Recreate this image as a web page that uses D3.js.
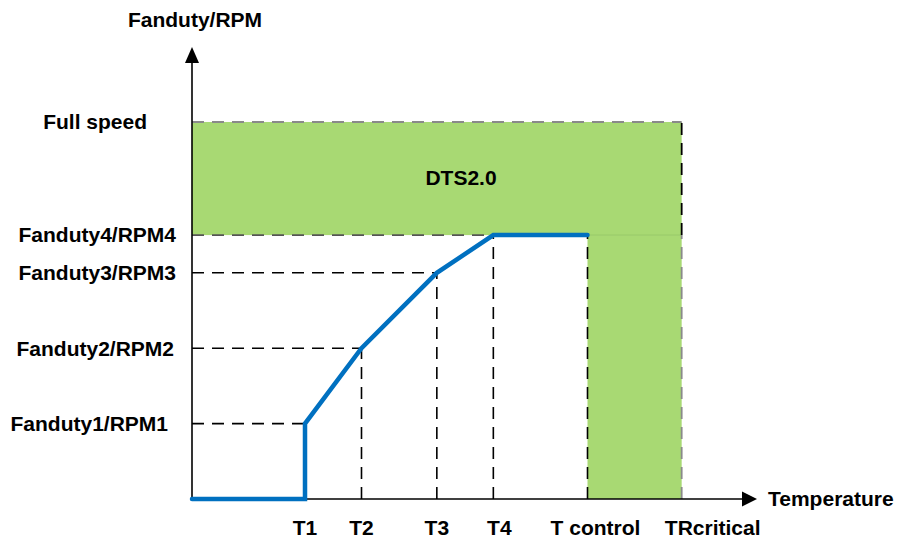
<!DOCTYPE html>
<html>
<head>
<meta charset="utf-8">
<script src="https://cdn.jsdelivr.net/npm/d3@7/dist/d3.min.js"></script>
<style>
  html, body { margin: 0; padding: 0; background: #ffffff; }
  svg { display: block; }
  text { font-family: "Liberation Sans", Arial, sans-serif; font-weight: bold; font-size: 21px; fill: #000; }
</style>
</head>
<body>
<svg id="chart" width="899" height="540"></svg>
<script>
// ---- data ----
const xTickLabels = ["T1", "T2", "T3", "T4", "T control", "TRcritical"];
const xTickValues = [6, 9, 13, 16, 21, 26];
const yTickLabels = ["Fanduty1/RPM1", "Fanduty2/RPM2", "Fanduty3/RPM3", "Fanduty4/RPM4", "Full speed"];
const yTickValues = [20, 40, 60, 70, 100];
const curveX = [0, 6, 6, 9, 13, 16, 21];
const curveY = [0, 0, 20, 40, 60, 70, 70];
const zoneLabel = "DTS2.0";
const xAxisTitle = "Temperature";
const yAxisTitle = "Fanduty/RPM";

// ---- layout ----
const svg = d3.select("#chart");
const x = d3.scaleLinear().domain([0, 30]).range([192, 757]);
const y = d3.scaleLinear().domain([0, 100]).range([499, 122]);
const xLabelDx = [0, 0, 0, 6, 8, 31];
const yLabelEnd = [168, 174, 176, 176, 147];

const green = "#a8d973";
const dash = "12,8";

// green zones
const tCtrl = xTickValues[4], tCrit = xTickValues[5];
const lvl4 = yTickValues[3], full = yTickValues[4];
svg.append("rect")
  .attr("x", x(0)).attr("y", y(full))
  .attr("width", x(tCrit) - x(0)).attr("height", y(lvl4) - y(full))
  .attr("fill", green);
svg.append("rect")
  .attr("x", x(tCtrl)).attr("y", y(lvl4))
  .attr("width", x(tCrit) - x(tCtrl)).attr("height", y(0) - y(lvl4))
  .attr("fill", green);

const grey = "#8a8a8a";
function seg(x1, y1, x2, y2, color, da, w) {
  svg.append("line")
    .attr("x1", x(x1)).attr("y1", y(y1)).attr("x2", x(x2)).attr("y2", y(y2))
    .attr("stroke", color).attr("stroke-width", w || 1.6)
    .attr("stroke-dasharray", da || null);
}
// zone borders
seg(0, full, tCrit, full, grey, dash, 1.8);
seg(0, lvl4, tCtrl, lvl4, "#555", dash, 1.6);
seg(tCtrl, lvl4, tCrit, lvl4, "#96c866", null, 1);
seg(tCrit, 0, tCrit, lvl4, grey, dash, 1.8);
seg(tCrit, lvl4, tCrit, full, "#000", dash, 1.8);

// guide lines (black dashed)
for (let i = 0; i < 3; i++) {
  seg(0, yTickValues[i], xTickValues[i], yTickValues[i], "#000", dash, 1.6);
}
for (let i = 1; i < 4; i++) {
  seg(xTickValues[i], 0, xTickValues[i], yTickValues[i], "#000", dash, 1.6);
}
seg(tCtrl, 0, tCtrl, lvl4, "#000", dash, 1.6);

// axes with arrows
svg.append("line").attr("x1", x(0)).attr("y1", y(0)).attr("x2", x(0)).attr("y2", 62)
  .attr("stroke", "#000").attr("stroke-width", 1.6);
svg.append("path").attr("d", `M${x(0)},47 L${x(0) - 7},63 L${x(0) + 7},63 Z`).attr("fill", "#000");
svg.append("line").attr("x1", x(0)).attr("y1", y(0)).attr("x2", 743).attr("y2", y(0))
  .attr("stroke", "#000").attr("stroke-width", 1.6);
svg.append("path").attr("d", `M${x(30)},${y(0)} L${x(30) - 15},${y(0) - 7.5} L${x(30) - 15},${y(0) + 7.5} Z`).attr("fill", "#000");

// fan curve
const pts = curveX.map((v, i) => [v, curveY[i]]);
svg.append("path")
  .attr("d", d3.line().x(d => x(d[0])).y(d => y(d[1]))(pts))
  .attr("fill", "none").attr("stroke", "#0070c0").attr("stroke-width", 4.5)
  .attr("stroke-linecap", "round").attr("stroke-linejoin", "miter");

// labels
yTickLabels.forEach((t, i) => {
  svg.append("text").attr("x", yLabelEnd[i]).attr("y", y(yTickValues[i]))
    .attr("dy", "0.35em").attr("text-anchor", "end").text(t);
});
xTickLabels.forEach((t, i) => {
  svg.append("text").attr("x", x(xTickValues[i]) + xLabelDx[i]).attr("y", 535)
    .attr("text-anchor", "middle").text(t);
});
svg.append("text").attr("x", 195).attr("y", 27).attr("text-anchor", "middle").text(yAxisTitle);
svg.append("text").attr("x", 768).attr("y", y(0)).attr("dy", "0.35em").text(xAxisTitle);
svg.append("text").attr("x", 461).attr("y", 185).attr("text-anchor", "middle").text(zoneLabel);
</script>
</body>
</html>
